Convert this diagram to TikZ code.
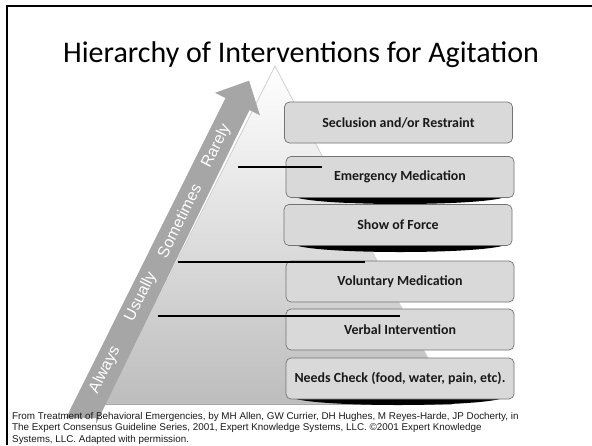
\documentclass[tikz,border=0pt]{standalone}
\usepackage{fontspec}
\setmainfont{Carlito}
\newfontfamily\arialfont{Liberation Sans}
\definecolor{boxgray}{HTML}{D9D9D9}
\definecolor{arrowgray}{HTML}{A6A6A6}
\definecolor{pyrbottom}{HTML}{BDBDBD}
\definecolor{pyredge}{HTML}{CFCFCF}
\begin{document}
\begin{tikzpicture}[x=1pt,y=-1pt,
  level/.style={draw=black!55, line width=0.7pt, fill=boxgray, rounded corners=5pt,
    minimum width=228pt, minimum height=41pt, inner sep=0pt, text=black!90,
    font=\bfseries\fontsize{13.9}{15}\selectfont},
  freq/.style={text=white, inner sep=0pt, rotate=63.5,
    font=\arialfont\fontsize{16}{18}\selectfont},
  rule/.style={line width=1.8pt, black},
  dropshadow/.style={fill=black},
  cite/.style={anchor=base west, inner sep=0pt, text=black!90,
    font=\arialfont\fontsize{9.85}{11}\selectfont}
]
\useasboundingbox (0,0) rectangle (592,445);

% pyramid
\shade[top color=white, middle color=black!6, bottom color=pyrbottom, draw=pyredge, line width=0.8pt]
  (275,66) -- (452,404) -- (105,404) -- cycle;
\draw[black!35, line width=0.8pt] (105,404) -- (452,404);

% frequency arrow
\fill[arrowgray] (66,418) -- (69,412) -- (225.5,98) -- (215.1,92.8) -- (249.1,80.7)
  -- (259.9,115.2) -- (249.5,110) -- (96,424) -- (96,418) -- cycle;
\node[freq] (always)    at (105,370) {Always};
\node[freq] (usually)   at (141,297) {Usually};
\node[freq] (sometimes) at (179,221) {Sometimes};
\node[freq] (rarely)    at (216.5,146) {Rarely};

% shadows under some levels
\fill[dropshadow] (298,194) -- (502,194) -- (502,198) .. controls (470,206) and (330,206) .. (298,198) -- cycle;
\fill[dropshadow] (298,242) -- (502,242) -- (502,246) .. controls (470,254) and (330,254) .. (298,246) -- cycle;
\fill[dropshadow] (296,395) -- (500,395) -- (500,399) .. controls (468,407) and (328,407) .. (296,399) -- cycle;

% levels of intervention
\node[level] (seclusion) at (398.5,122.5) {Seclusion and/or Restraint};
\node[level] (emergency) at (400,177)    {Emergency Medication};
\node[level] (force)     at (398,225)    {Show of Force};
\node[level] (voluntary) at (400,281.5)  {Voluntary Medication};
\node[level] (verbal)    at (400,329.5)  {Verbal Intervention};
\node[level] (needs)     at (400,378.5)  {Needs Check (food, water, pain, etc).};

% marker rules
\coordinate (r1a) at (238,167); \coordinate (r1b) at (322,167);
\coordinate (r2a) at (178,262); \coordinate (r2b) at (365,262);
\coordinate (r3a) at (158,316); \coordinate (r3b) at (400,316);
\draw[rule] (r1a) -- (r1b);
\draw[rule] (r2a) -- (r2b);
\draw[rule] (r3a) -- (r3b);

% title
\node[anchor=base, inner sep=0pt, font=\fontsize{30}{33}\selectfont] (title) at (301,62)
  {Hierarchy of Interventions for Agitation};

% source
\node[cite] (cite1) at (12,419) {From Treatment of Behavioral Emergencies, by MH Allen, GW Currier, DH Hughes, M Reyes-Harde, JP Docherty, in};
\node[cite] (cite2) at (12,430.5) {The Expert Consensus Guideline Series, 2001, Expert Knowledge Systems, LLC. \textcopyright2001 Expert Knowledge};
\node[cite] (cite3) at (12,442) {Systems, LLC. Adapted with permission.};

% slide frame
\draw[line width=2.3pt] (592,6.2) -- (7,6.2) -- (7,445);
\end{tikzpicture}
\end{document}
